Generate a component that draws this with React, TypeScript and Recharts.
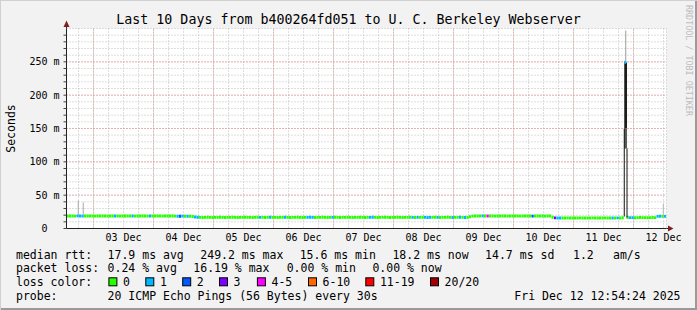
import React from 'react';
import {
  ComposedChart,
  Bar,
  Cell,
  XAxis,
  YAxis,
  CartesianGrid,
  ReferenceLine,
  ReferenceArea,
  ReferenceDot,
} from 'recharts';

const MONO = "'DejaVu Sans Mono', 'Liberation Mono', monospace";

// time axis in hours since 2 Dec 00:00
const START_HOUR = 13.2;
const END_HOUR = 253.2;
const FIRST_SAMPLE_HOUR = 13.7; // one median sample per hour

// median rtt (ms), one value per hour
const medianMs: number[] = [
  18.8, 18.7, 18.7, 18.6, 18.9, 18.7, 18.6, 18.7, 18.8, 18.7, 18.7, 18.6, 18.7, 18.8, 18.7, 18.7, 18.6, 18.7, 18.7, 18.8, 18.7, 18.6, 18.7, 18.7,
  18.7, 18.8, 18.7, 18.6, 18.7, 18.7, 18.8, 18.7, 18.6, 18.7, 18.7, 18.7, 18.8, 18.7, 18.6, 18.7, 18.7, 18.8, 18.7, 18.6, 18.5, 18.4, 18.6, 18.5,
  18.4, 18.3, 18.0, 17.2, 16.8, 16.7, 16.6, 16.7, 16.8, 16.7, 16.6, 16.7, 16.7, 16.8, 16.7, 16.6, 16.7, 16.7, 16.8, 16.7, 16.6, 16.7, 16.7, 16.8,
  16.7, 16.7, 16.6, 16.7, 16.8, 16.7, 16.7, 16.6, 16.7, 16.8, 16.7, 16.7, 16.6, 16.7, 16.7, 16.8, 16.7, 16.6, 16.7, 16.7, 16.8, 16.7, 16.6, 16.7,
  16.7, 16.8, 16.7, 16.6, 16.7, 16.7, 16.8, 16.7, 16.6, 16.7, 16.7, 16.8, 16.7, 16.6, 16.7, 16.7, 16.8, 16.7, 16.6, 16.7, 16.7, 16.8, 16.7, 16.6,
  16.7, 16.7, 16.8, 16.7, 16.6, 16.7, 16.7, 16.8, 16.7, 16.6, 16.7, 16.7, 16.8, 16.7, 16.6, 16.7, 16.7, 16.8, 16.7, 16.6, 16.7, 16.7, 16.8, 16.7,
  16.6, 16.7, 16.7, 16.8, 16.7, 16.6, 16.7, 16.7, 16.8, 16.7, 16.6, 16.7, 16.7, 16.8, 16.7, 16.6, 16.7, 17.6, 18.6, 18.7, 18.8, 18.7, 18.9, 18.7,
  18.7, 18.8, 18.7, 18.6, 18.7, 18.7, 18.8, 18.7, 18.6, 18.7, 18.7, 18.8, 18.7, 18.6, 18.7, 18.7, 18.8, 18.7, 18.6, 18.7, 18.7, 18.8, 18.7, 18.6,
  18.7, 18.7, 17.0, 15.9, 15.8, 15.8, 15.7, 15.8, 15.9, 15.8, 15.8, 15.7, 15.8, 15.9, 15.8, 15.8, 15.7, 15.8, 15.9, 15.8, 15.8, 15.7, 15.8, 15.9,
  15.8, 15.8, 15.7, 15.8, 15.9, 15.8, 16.2, 249.2, 16.4, 16.3, 16.3, 16.2, 16.3, 16.4, 16.3, 16.3, 16.2, 16.3, 16.4, 16.3, 18.2, 18.3, 18.2, 18.2,
];

// lost pings (of 20) per hour
const lossCount: number[] = [
  0, 0, 0, 0, 1, 1, 1, 0, 0, 0, 0, 0, 0, 0, 0, 0, 0, 0, 0, 1, 0, 0, 0, 0,
  0, 0, 1, 0, 0, 0, 0, 0, 0, 1, 0, 0, 0, 0, 0, 0, 0, 0, 0, 0, 1, 2, 1, 0,
  1, 0, 0, 1, 1, 0, 0, 0, 0, 0, 0, 0, 0, 0, 0, 0, 0, 0, 0, 0, 0, 0, 0, 0,
  0, 0, 0, 0, 0, 1, 0, 0, 0, 1, 0, 0, 0, 0, 0, 1, 0, 0, 0, 0, 0, 0, 0, 0,
  1, 1, 1, 0, 0, 0, 0, 0, 0, 0, 1, 0, 0, 0, 0, 0, 0, 0, 0, 0, 0, 0, 0, 0,
  0, 1, 1, 0, 0, 0, 0, 0, 0, 0, 0, 0, 0, 0, 0, 0, 0, 0, 1, 0, 1, 0, 0, 1,
  1, 1, 0, 0, 1, 0, 0, 0, 0, 0, 1, 0, 0, 1, 0, 1, 0, 0, 0, 0, 0, 0, 1, 0,
  4, 0, 0, 0, 0, 0, 0, 0, 0, 0, 0, 0, 0, 0, 0, 0, 0, 0, 2, 0, 0, 0, 0, 0,
  0, 0, 0, 3, 1, 1, 0, 0, 0, 0, 0, 0, 0, 0, 0, 0, 0, 0, 0, 0, 0, 0, 0, 0,
  0, 0, 1, 0, 1, 0, 0, 1, 0, 1, 1, 0, 0, 0, 0, 0, 0, 0, 0, 0, 1, 1, 0, 1,
];

// loss colour legend
const lossLabels = ['0', '1', '2', '3', '4-5', '6-10', '11-19', '20/20'];
const lossUpper = [0, 1, 2, 3, 5, 10, 19, 20];
const lossColors = ['#26ff00', '#00b8ff', '#0059ff', '#7e00ff', '#ff00ff', '#ff6600', '#ff0000', '#a00000'];

// smoke (spread of the 20 pings) where it shows above the median band
const smokeLineHour = [17.9, 19.9, 251.9, 236.3, 237.4, 236.9];
const smokeLineLow = [20.5, 20.5, 19.5, 18, 16.5, 249];
const smokeLineHigh = [42, 39, 37, 150, 120, 297];
const smokeLineColor = ['#a8a8a8', '#a8a8a8', '#b4b4b4', '#111111', '#111111', '#9a9a9a'];
const smokeBlockFrom = [236.3, 236.3];
const smokeBlockTo = [237.4, 237.4];
const smokeBlockLow = [150, 120];
const smokeBlockHigh = [249, 150];
const smokeBlockColor = ['#1c1c1c', '#5a5a5a'];

// x axis
const dayLabels = ['03 Dec', '04 Dec', '05 Dec', '06 Dec', '07 Dec', '08 Dec', '09 Dec', '10 Dec', '11 Dec', '12 Dec'];
const dayLabelHours = [36, 60, 84, 108, 132, 156, 180, 204, 228, 252];
const midnightHours = [24, 48, 72, 96, 120, 144, 168, 192, 216, 240];
const sixHourTicks = [
  18, 24, 30, 36, 42, 48, 54, 60, 66, 72, 78, 84, 90, 96, 102, 108, 114, 120, 126, 132,
  138, 144, 150, 156, 162, 168, 174, 180, 186, 192, 198, 204, 210, 216, 222, 228, 234, 240, 246, 252,
];

// y axis
const yTickValues = [0, 10, 20, 30, 40, 50, 60, 70, 80, 90, 100, 110, 120, 130, 140, 150, 160, 170, 180, 190, 200, 210, 220, 230, 240, 250, 260, 270, 280, 290];
const yLabelValues = [0, 50, 100, 150, 200, 250];
const yLabelTexts = ['0  ', '50 m', '100 m', '150 m', '200 m', '250 m'];

// legend texts
const titleText = 'Last 10 Days from b400264fd051 to U. C. Berkeley Webserver';
const rowHeads = ['median rtt:', 'packet loss:', 'loss color:', 'probe:'];
const rttTexts = ['17.9 ms avg', '249.2 ms max', '15.6 ms min', '18.2 ms now', '14.7 ms sd', '1.2', 'am/s'];
const lossTexts = ['0.24 % avg', '16.19 % max', '0.00 % min', '0.00 % now'];
const probeText = '20 ICMP Echo Pings (56 Bytes) every 30s';
const dateText = 'Fri Dec 12 12:54:24 2025';
const watermarkText = 'RRDTOOL / TOBI OETIKER';

// legend layout
const ROW_Y = [258.6, 272.4, 286.3, 300.1];
const HEAD_X = 16;
const rttX = [107.6, 200.3, 299.7, 392.4, 485.1, 573, 613];
const lossX = [107.6, 193.3, 286.7, 372.4];
const boxX = [108.4, 145.3, 182.2, 219, 256.9, 308, 365.3, 430];

const BAND_HALF = 2.2;

const colorFor = (n: number) => {
  const idx = lossUpper.findIndex((u) => n <= u);
  return lossColors[idx < 0 ? lossColors.length - 1 : idx];
};

const data = medianMs.map((m, i) => ({
  t: FIRST_SAMPLE_HOUR + i,
  band: [m - BAND_HALF, m + BAND_HALF],
  loss: lossCount[i],
}));

const YTick = (props: any) => {
  const { x, y, payload } = props;
  const idx = yLabelValues.indexOf(payload.value);
  if (idx < 0) return <g />;
  return (
    <text
      x={x}
      y={y}
      dy={3.6}
      textAnchor="end"
      fontFamily={MONO}
      fontSize={10}
      fill="#000"
      xmlSpace="preserve"
      style={{ whiteSpace: 'pre' }}
    >
      {yLabelTexts[idx]}
    </text>
  );
};

const xLabel = (v: number) => {
  const idx = dayLabelHours.indexOf(v);
  return idx < 0 ? '' : dayLabels[idx];
};

const ArrowRight = (props: any) => {
  const { cx, cy } = props;
  return (
    <g>
      <line x1={cx} y1={cy} x2={cx + 2} y2={cy} stroke="#222" />
      <polygon points={`${cx + 1.5},${cy - 3} ${cx + 7},${cy} ${cx + 1.5},${cy + 3}`} fill="#7f1f1f" />
    </g>
  );
};

const ArrowUp = (props: any) => {
  const { cx, cy } = props;
  return (
    <g>
      <line x1={cx} y1={cy} x2={cx} y2={cy - 2} stroke="#222" />
      <polygon points={`${cx - 3},${cy - 1.5} ${cx},${cy - 8} ${cx + 3},${cy - 1.5}`} fill="#7f1f1f" />
    </g>
  );
};

const GRID_GREY = '#bdbdbd';
const GRID_RED = '#e48a8a';

export default function App() {
  return (
    <div
      style={{
        position: 'absolute',
        left: 0,
        top: 0,
        width: 697,
        height: 310,
        background: '#f2f2f2',
        boxShadow: 'inset 1px 1px 0 #d0d0d0, inset -2px -2px 0 #9a9a9a',
        overflow: 'hidden',
      }}
    >
      <ComposedChart
        width={697}
        height={310}
        data={data}
        margin={{ top: 28.5, right: 30.5, bottom: 61.5, left: 0 }}
      >
        <CartesianGrid stroke={GRID_GREY} strokeDasharray="1 2" fill="#ffffff" />
        {midnightHours.map((h) => (
          <ReferenceLine key={'mx' + h} x={h} stroke={GRID_RED} strokeDasharray="1 2" zIndex={-50} />
        ))}
        {yLabelValues
          .filter((v) => v > 0)
          .map((v) => (
            <ReferenceLine key={'my' + v} y={v} stroke={GRID_RED} strokeDasharray="1 2" zIndex={-50} />
          ))}
        <XAxis
          type="number"
          dataKey="t"
          domain={[START_HOUR, END_HOUR]}
          allowDataOverflow
          ticks={sixHourTicks}
          interval={0}
          tickFormatter={xLabel}
          height={20}
          tickLine={false}
          tickSize={3}
          tickMargin={2}
          axisLine={{ stroke: '#222' }}
          tick={{ fontFamily: MONO, fontSize: 10, fill: '#000' }}
        />
        <YAxis
          type="number"
          domain={[0, 300]}
          allowDataOverflow
          ticks={yTickValues}
          interval={0}
          width={66.5}
          tickSize={3}
          tickMargin={4}
          tickLine={{ stroke: '#444' }}
          axisLine={{ stroke: '#222' }}
          tick={<YTick />}
        />
        {smokeBlockFrom.map((t1, i) => (
          <ReferenceArea
            key={'sb' + i}
            x1={t1}
            x2={smokeBlockTo[i]}
            y1={smokeBlockLow[i]}
            y2={smokeBlockHigh[i]}
            fill={smokeBlockColor[i]}
            fillOpacity={1}
            stroke="none"
          />
        ))}
        {smokeLineHour.map((t, i) => (
          <ReferenceLine
            key={'sl' + i}
            segment={[
              { x: t, y: smokeLineLow[i] },
              { x: t, y: smokeLineHigh[i] },
            ]}
            stroke={smokeLineColor[i]}
            strokeWidth={1}
          />
        ))}
        <Bar dataKey="band" barSize={3} isAnimationActive={false}>
          {data.map((d, i) => (
            <Cell key={i} fill={colorFor(d.loss)} />
          ))}
        </Bar>
        <ReferenceDot x={END_HOUR} y={0} r={0} shape={<ArrowRight />} ifOverflow="visible" />
        <ReferenceDot x={START_HOUR} y={300} r={0} shape={<ArrowUp />} ifOverflow="visible" />
      </ComposedChart>
      <svg
        width={697}
        height={310}
        style={{ position: 'absolute', left: 0, top: 0, pointerEvents: 'none' }}
        fontFamily={MONO}
      >
        <text x={348.5} y={24} textAnchor="middle" fontSize={13.3} fill="#000">
          {titleText}
        </text>
        <text transform="translate(15,128.5) rotate(-90)" textAnchor="middle" fontSize={11.5} fill="#000">
          Seconds
        </text>
        <text transform="translate(685.5,5) rotate(90)" fontSize={8.4} fill="#bdbdbd">
          {watermarkText}
        </text>
        {rowHeads.map((h, i) => (
          <text key={'h' + i} x={HEAD_X} y={ROW_Y[i]} fontSize={11.5} fill="#000">
            {h}
          </text>
        ))}
        {rttTexts.map((s, i) => (
          <text key={'r' + i} x={rttX[i]} y={ROW_Y[0]} fontSize={11.5} fill="#000">
            {s}
          </text>
        ))}
        {lossTexts.map((s, i) => (
          <text key={'l' + i} x={lossX[i]} y={ROW_Y[1]} fontSize={11.5} fill="#000">
            {s}
          </text>
        ))}
        {lossLabels.map((s, i) => (
          <g key={'lc' + i}>
            <rect x={boxX[i] + 0.5} y={ROW_Y[2] - 8.5} width={8} height={8} fill={lossColors[i]} stroke="#000" strokeWidth={1} />
            <text x={boxX[i] + 14.6} y={ROW_Y[2]} fontSize={11.5} fill="#000">
              {s}
            </text>
          </g>
        ))}
        <text x={107.6} y={ROW_Y[3]} fontSize={11.5} fill="#000">
          {probeText}
        </text>
        <text x={680.5} y={ROW_Y[3]} textAnchor="end" fontSize={11.5} fill="#000">
          {dateText}
        </text>
      </svg>
    </div>
  );
}
